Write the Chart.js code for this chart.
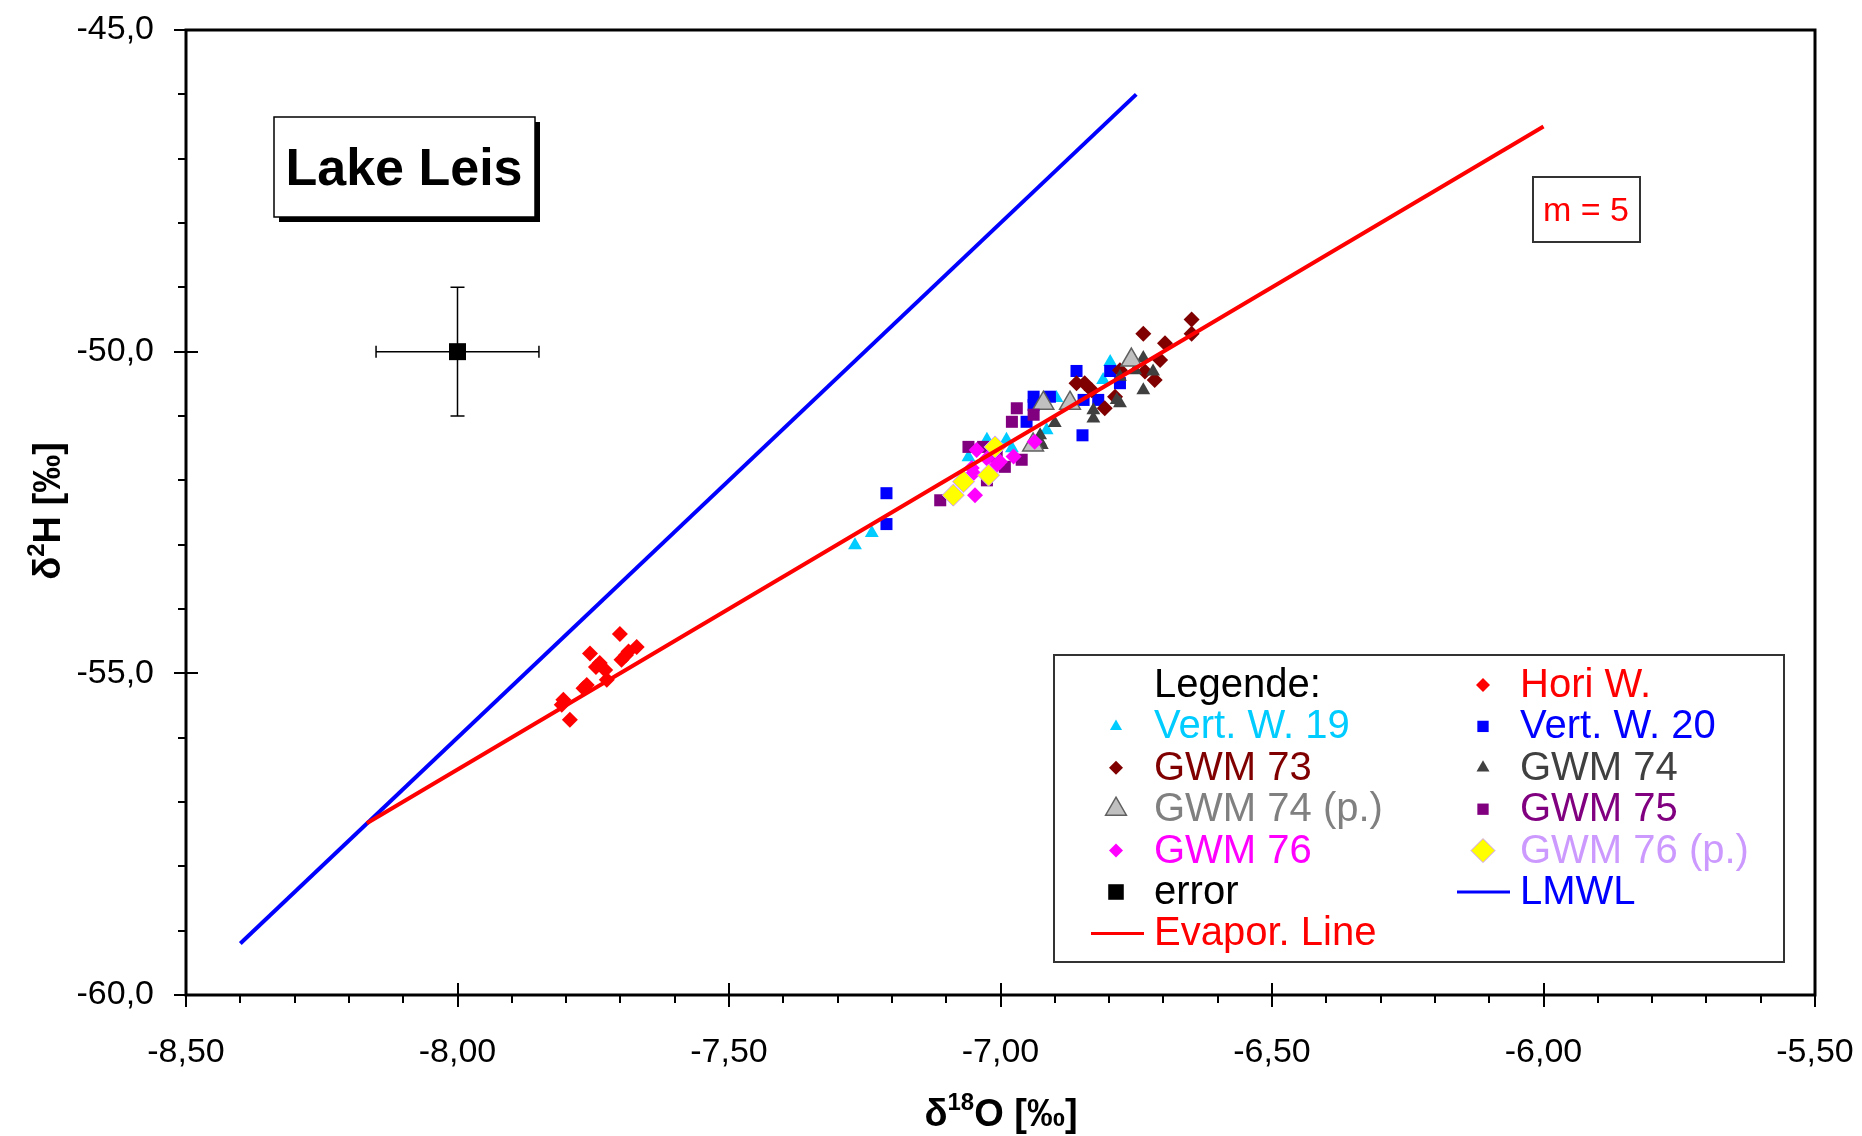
<!DOCTYPE html>
<html>
<head>
<meta charset="utf-8">
<title>Lake Leis</title>
<script src="https://cdn.jsdelivr.net/npm/chart.js@4.4.1/dist/chart.umd.min.js"></script>
<style>
  body { margin: 0; background: #fff; }
  #wrap { width: 1862px; height: 1136px; }
</style>
</head>
<body>
<div id="wrap"><canvas id="lake-chart"></canvas></div>
<script>
// d18O (x) and d2H (y) per sampling point
var horiX = [-7.701, -7.756, -7.738, -7.728, -7.698, -7.685, -7.670, -7.690, -7.745, -7.725, -7.762, -7.768, -7.805, -7.808, -7.793];
var horiY = [-54.39, -54.69, -54.84, -54.95, -54.79, -54.66, -54.59, -54.72, -54.90, -55.10, -55.18, -55.23, -55.41, -55.49, -55.72];

var vw19X = [-7.268, -7.237, -7.059, -7.025, -6.989, -6.979, -6.915, -6.897, -6.798, -6.811];
var vw19Y = [-53.01, -52.82, -51.64, -51.37, -51.37, -51.50, -51.22, -50.72, -50.16, -50.44];

var vw20X = [-7.210, -7.210, -6.939, -6.939, -6.909, -6.952, -6.849, -6.860, -6.798, -6.847, -6.820, -6.780];
var vw20Y = [-52.20, -52.68, -50.70, -50.83, -50.70, -51.09, -51.30, -50.30, -50.30, -50.75, -50.75, -50.49];

var gwm73X = [-6.648, -6.648, -6.737, -6.697, -6.706, -6.780, -6.734, -6.716, -6.860, -6.845, -6.832, -6.789, -6.808];
var gwm73Y = [-49.50, -49.72, -49.72, -49.87, -50.13, -50.29, -50.31, -50.44, -50.49, -50.49, -50.60, -50.70, -50.88];

var gwm74X = [-6.737, -6.752, -6.719, -6.737, -6.780, -6.780, -6.786, -6.829, -6.829, -6.900, -6.927, -6.927, -6.924];
var gwm74Y = [-50.10, -50.29, -50.31, -50.60, -50.39, -50.80, -50.75, -50.91, -51.04, -51.11, -51.30, -51.40, -51.45];

var gwm74pX = [-6.759, -6.921, -6.872, -6.940];
var gwm74pY = [-50.13, -50.80, -50.80, -51.45];

var gwm75X = [-6.970, -6.979, -6.939, -7.059, -7.032, -6.992, -6.961, -7.111, -7.025, -7.007];
var gwm75Y = [-50.88, -51.09, -50.98, -51.48, -51.48, -51.79, -51.68, -52.31, -52.00, -51.63];

var gwm76X = [-7.047, -7.050, -7.044, -7.025, -7.001, -6.976, -7.053, -6.937, -7.007];
var gwm76Y = [-52.23, -51.89, -51.53, -51.66, -51.71, -51.63, -51.81, -51.40, -51.76];

var gwm76pX = [-7.087, -7.068, -7.022, -7.010];
var gwm76pY = [-52.23, -52.02, -51.92, -51.48];

var errorX = [-8.0];
var errorY = [-50.0];
var errorDX = [0.15];
var errorDY = [1.0];

// LMWL: d2H = 8 * d18O + 8, evaporation line with slope 5
var lmwlX = [-8.40, -6.75];
var lmwlY = [-59.2, -46.0];
var evapX = [-8.167, -6.00];
var evapY = [-57.33, -46.5];

var xTicks = [-8.5, -8.0, -7.5, -7.0, -6.5, -6.0, -5.5];
var yTicks = [-60, -55, -50, -45];

var FONT = "'Liberation Sans', Arial, sans-serif";

function pts(xs, ys) {
  return xs.map(function(x, i) { return {x: x, y: ys[i]}; });
}

function isMajor(v, list) {
  for (var i = 0; i < list.length; i++) {
    if (Math.abs(v - list[i]) < 1e-6) return true;
  }
  return false;
}

function xLabel(v) {
  return isMajor(v, xTicks) ? v.toFixed(2).replace('.', ',') : '';
}

function yLabel(v) {
  return isMajor(v, yTicks) ? v.toFixed(1).replace('.', ',') : '';
}

function marks(label, xs, ys, style, r, fill, border, bw) {
  return {
    label: label, data: pts(xs, ys), pointStyle: style,
    pointRadius: r, pointHoverRadius: r,
    backgroundColor: fill, borderColor: border || fill,
    borderWidth: bw || 0, pointBorderWidth: bw || 0
  };
}

function line(label, xs, ys, color) {
  return {
    label: label, data: pts(xs, ys), showLine: true,
    borderColor: color, borderWidth: 4, pointRadius: 0, pointHoverRadius: 0
  };
}

// dataset 0 is painted last (on top)
var datasets = [
  line('Evapor. Line', evapX, evapY, '#ff0000'),
  line('LMWL', lmwlX, lmwlY, '#0000ff'),
  marks('error', errorX, errorY, 'rect', 12, '#000000'),
  marks('GWM 76 (p.)', gwm76pX, gwm76pY, 'rectRot', 11, '#ffff00', '#cc99ff', 1),
  marks('GWM 76', gwm76X, gwm76Y, 'rectRot', 8, '#ff00ff'),
  marks('GWM 75', gwm75X, gwm75Y, 'rect', 8.5, '#800080'),
  marks('GWM 74 (p.)', gwm74pX, gwm74pY, 'triangle', 12, '#c0c0c0', '#606060', 1.5),
  marks('GWM 74', gwm74X, gwm74Y, 'triangle', 8, '#404040'),
  marks('GWM 73', gwm73X, gwm73Y, 'rectRot', 8, '#800000'),
  marks('Vert. W. 20', vw20X, vw20Y, 'rect', 8.5, '#0000ff'),
  marks('Vert. W. 19', vw19X, vw19Y, 'triangle', 8, '#00ccff'),
  marks('Hori W.', horiX, horiY, 'rectRot', 8, '#ff0000')
];

// legend layout: [column, row, label, text colour, marker]
var legendItems = [
  [0, 0, 'Legende:', '#000000', null],
  [0, 1, 'Vert. W. 19', '#00ccff', {style: 'triangle', r: 7, fill: '#00ccff'}],
  [0, 2, 'GWM 73', '#800000', {style: 'rectRot', r: 7, fill: '#800000'}],
  [0, 3, 'GWM 74 (p.)', '#808080', {style: 'triangle', r: 12, fill: '#c0c0c0', border: '#606060', bw: 1.5}],
  [0, 4, 'GWM 76', '#ff00ff', {style: 'rectRot', r: 7, fill: '#ff00ff'}],
  [0, 5, 'error', '#000000', {style: 'rect', r: 11, fill: '#000000'}],
  [0, 6, 'Evapor. Line', '#ff0000', {line: '#ff0000'}],
  [1, 0, 'Hori W.', '#ff0000', {style: 'rectRot', r: 7, fill: '#ff0000'}],
  [1, 1, 'Vert. W. 20', '#0000ff', {style: 'rect', r: 8, fill: '#0000ff'}],
  [1, 2, 'GWM 74', '#404040', {style: 'triangle', r: 7.5, fill: '#404040'}],
  [1, 3, 'GWM 75', '#800080', {style: 'rect', r: 8, fill: '#800080'}],
  [1, 4, 'GWM 76 (p.)', '#cc99ff', {style: 'rectRot', r: 12, fill: '#ffff00', border: '#cc99ff', bw: 1}],
  [1, 5, 'LMWL', '#0000ff', {line: '#0000ff'}]
];

function drawErrorBars(ctx, xs, ys) {
  ctx.save();
  ctx.strokeStyle = '#000';
  ctx.lineWidth = 1.5;
  ctx.beginPath();
  for (var i = 0; i < errorX.length; i++) {
    var x0 = xs.getPixelForValue(errorX[i] - errorDX[i]);
    var x1 = xs.getPixelForValue(errorX[i] + errorDX[i]);
    var y0 = ys.getPixelForValue(errorY[i] + errorDY[i]);
    var y1 = ys.getPixelForValue(errorY[i] - errorDY[i]);
    var cx = xs.getPixelForValue(errorX[i]);
    var cy = ys.getPixelForValue(errorY[i]);
    ctx.moveTo(x0, cy); ctx.lineTo(x1, cy);
    ctx.moveTo(x0, cy - 6); ctx.lineTo(x0, cy + 6);
    ctx.moveTo(x1, cy - 6); ctx.lineTo(x1, cy + 6);
    ctx.moveTo(cx, y0); ctx.lineTo(cx, y1);
    ctx.moveTo(cx - 7, y0); ctx.lineTo(cx + 7, y0);
    ctx.moveTo(cx - 7, y1); ctx.lineTo(cx + 7, y1);
  }
  ctx.stroke();
  ctx.restore();
}

function drawFrame(ctx, area, xs, ys) {
  ctx.save();
  ctx.strokeStyle = '#000';
  ctx.lineWidth = 3;
  ctx.strokeRect(area.left, area.top, area.right - area.left, area.bottom - area.top);

  ctx.lineWidth = 2;
  ctx.beginPath();
  xs.ticks.forEach(function(t) {
    var px = Math.round(xs.getPixelForValue(t.value));
    if (isMajor(t.value, xTicks)) {
      ctx.moveTo(px, area.bottom - 12); ctx.lineTo(px, area.bottom + 12);
    } else {
      ctx.moveTo(px, area.bottom); ctx.lineTo(px, area.bottom + 8);
    }
  });
  ys.ticks.forEach(function(t) {
    var py = Math.round(ys.getPixelForValue(t.value));
    if (isMajor(t.value, yTicks)) {
      ctx.moveTo(area.left - 12, py); ctx.lineTo(area.left + 12, py);
    } else {
      ctx.moveTo(area.left - 8, py); ctx.lineTo(area.left, py);
    }
  });
  ctx.stroke();
  ctx.restore();
}

// text with a superscript part, centred on cx, baseline at by
function drawSupText(ctx, parts, cx, by, size) {
  var total = 0;
  parts.forEach(function(p) {
    ctx.font = 'bold ' + (p[1] ? Math.round(size * 0.62) : size) + 'px ' + FONT;
    total += ctx.measureText(p[0]).width;
  });
  var x = cx - total / 2;
  ctx.textAlign = 'left';
  ctx.textBaseline = 'alphabetic';
  parts.forEach(function(p) {
    ctx.font = 'bold ' + (p[1] ? Math.round(size * 0.62) : size) + 'px ' + FONT;
    ctx.fillText(p[0], x, p[1] ? by - size * 0.42 : by);
    x += ctx.measureText(p[0]).width;
  });
}

function drawTitles(ctx) {
  ctx.save();
  ctx.fillStyle = '#000';
  drawSupText(ctx, [['δ', false], ['18', true], ['O [‰]', false]], 1001, 1126, 38);
  ctx.translate(60, 511);
  ctx.rotate(-Math.PI / 2);
  drawSupText(ctx, [['δ', false], ['2', true], ['H [‰]', false]], 0, 0, 38);
  ctx.restore();
}

function drawBoxes(ctx) {
  ctx.save();
  // "Lake Leis" label with drop shadow
  ctx.fillStyle = '#000';
  ctx.fillRect(279, 122, 261, 100);
  ctx.fillStyle = '#fff';
  ctx.fillRect(274, 117, 261, 100);
  ctx.strokeStyle = '#000';
  ctx.lineWidth = 1.5;
  ctx.strokeRect(274, 117, 261, 100);
  ctx.fillStyle = '#000';
  ctx.font = 'bold 52px ' + FONT;
  ctx.textAlign = 'center';
  ctx.textBaseline = 'alphabetic';
  ctx.fillText('Lake Leis', 404, 185);

  // slope box
  ctx.fillStyle = '#fff';
  ctx.fillRect(1533, 177, 107, 65);
  ctx.strokeStyle = '#333';
  ctx.lineWidth = 2;
  ctx.strokeRect(1533, 177, 107, 65);
  ctx.fillStyle = '#ff0000';
  ctx.font = '34px ' + FONT;
  ctx.fillText('m = 5', 1586, 221);
  ctx.restore();
}

function drawLegend(ctx) {
  var left = 1054, top = 655, w = 730, h = 307;
  var colMark = [1116, 1483], colText = [1154, 1520];
  ctx.save();
  ctx.fillStyle = '#fff';
  ctx.fillRect(left, top, w, h);
  ctx.strokeStyle = '#333';
  ctx.lineWidth = 2;
  ctx.strokeRect(left, top, w, h);

  ctx.font = '40px ' + FONT;
  ctx.textAlign = 'left';
  ctx.textBaseline = 'alphabetic';
  legendItems.forEach(function(it) {
    var base = 697 + it[1] * 41.4;
    var my = base - 12;
    var m = it[4];
    if (m && m.line) {
      ctx.strokeStyle = m.line;
      ctx.lineWidth = 3;
      ctx.beginPath();
      ctx.moveTo(colText[it[0]] - 63, my);
      ctx.lineTo(colText[it[0]] - 10, my);
      ctx.stroke();
    } else if (m) {
      ctx.fillStyle = m.fill;
      ctx.strokeStyle = m.border || m.fill;
      ctx.lineWidth = m.bw || 0;
      Chart.helpers.drawPoint(ctx, {pointStyle: m.style, radius: m.r, rotation: 0, borderWidth: m.bw || 0}, colMark[it[0]], my);
    }
    ctx.fillStyle = it[3];
    ctx.fillText(it[2], colText[it[0]], base);
  });
  ctx.restore();
}

var decorPlugin = {
  id: 'decor',
  beforeDatasetsDraw: function(chart) {
    drawErrorBars(chart.ctx, chart.scales.x, chart.scales.y);
  },
  afterDraw: function(chart) {
    var ctx = chart.ctx;
    drawFrame(ctx, chart.chartArea, chart.scales.x, chart.scales.y);
    drawTitles(ctx);
    drawBoxes(ctx);
    drawLegend(ctx);
  }
};

var ctx = document.getElementById('lake-chart');

var lakeChart = new Chart(ctx, {
  type: 'scatter',
  data: {datasets: datasets},
  options: {
    responsive: true,
    maintainAspectRatio: false,
    animation: false,
    events: [],
    layout: {padding: {left: 0, top: 30, right: 47, bottom: 0}},
    plugins: {
      legend: {display: false},
      tooltip: {enabled: false}
    },
    scales: {
      x: {
        type: 'linear', min: -8.5, max: -5.5,
        grid: {display: false, drawTicks: false},
        border: {display: false},
        ticks: {
          stepSize: 0.1, autoSkip: false, maxRotation: 0, padding: 37,
          color: '#000', font: {family: FONT, size: 34}, callback: xLabel
        },
        afterFit: function(s) {
          s.height = 141;
          s.paddingLeft = 0; s.paddingRight = 0;
        }
      },
      y: {
        type: 'linear', min: -60, max: -45,
        grid: {display: false, drawTicks: false},
        border: {display: false},
        ticks: {
          stepSize: 1, autoSkip: false, padding: 32,
          color: '#000', font: {family: FONT, size: 34}, callback: yLabel
        },
        afterFit: function(s) {
          s.width = 186;
          s.paddingTop = 0; s.paddingBottom = 0;
        }
      }
    }
  },
  plugins: [decorPlugin]
});
</script>
</body>
</html>
